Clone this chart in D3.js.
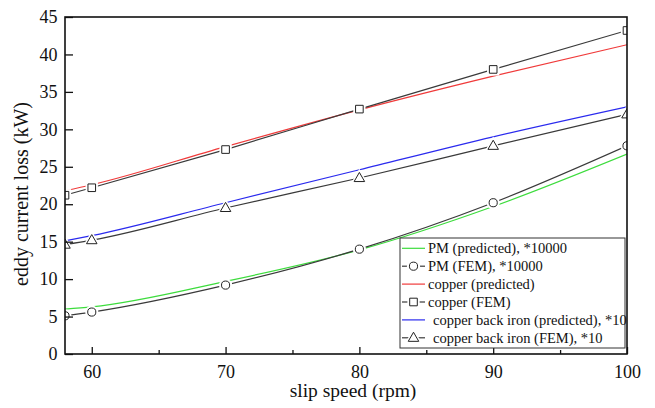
<!DOCTYPE html>
<html>
<head>
<meta charset="utf-8">
<script src="https://cdn.jsdelivr.net/npm/d3@7"></script>
<style>
  html, body { margin: 0; padding: 0; background: #fff; }
  svg { display: block; font-family: "Liberation Serif", "Times New Roman", serif; }
</style>
</head>
<body>
<svg id="chart" width="655" height="408"></svg>
<script>
// ---- data ----
const slipSpeed = [58, 60, 70, 80, 90, 100];
const pmPredicted = [6.0, 6.3, 9.7, 13.9, 19.7, 26.7];
const pmFEM = [5.1, 5.6, 9.2, 14.0, 20.2, 27.8];
const copperPredicted = [21.8, 22.6, 27.7, 32.6, 37.1, 41.3];
const copperFEM = [21.2, 22.2, 27.3, 32.7, 38.0, 43.2];
const backIronPredicted = [15.1, 15.8, 20.2, 24.6, 29.0, 33.0];
const backIronFEM = [14.6, 15.2, 19.5, 23.5, 27.8, 32.0];
const xTicks = [60, 70, 80, 90, 100];
const xMinorTicks = [65, 75, 85, 95];
const yTicks = [0, 5, 10, 15, 20, 25, 30, 35, 40, 45];
const legendLabels = [
  "PM (predicted), *10000",
  "PM (FEM), *10000",
  "copper (predicted)",
  "copper (FEM)",
  "copper back iron (predicted), *10",
  "copper back iron (FEM), *10"
];

const series = [
  { name: legendLabels[0], values: pmPredicted, color: "#3ddc3d", marker: null, indent: 0 },
  { name: legendLabels[1], values: pmFEM, color: "#3a3a3a", marker: "circle", indent: 0 },
  { name: legendLabels[2], values: copperPredicted, color: "#f03a3a", marker: null, indent: 0 },
  { name: legendLabels[3], values: copperFEM, color: "#3a3a3a", marker: "square", indent: 0 },
  { name: legendLabels[4], values: backIronPredicted, color: "#2a2aee", marker: null, indent: 5 },
  { name: legendLabels[5], values: backIronFEM, color: "#3a3a3a", marker: "triangle", indent: 5 }
];

// ---- layout ----
const svg = d3.select("#chart");
const L = 65, R = 627, T = 17, B = 354;
const x = d3.scaleLinear().domain([58, 100]).range([L, R]);
const y = d3.scaleLinear().domain([0, 45]).range([B, T]);

svg.append("defs").append("clipPath").attr("id", "plotclip")
  .append("rect").attr("x", L).attr("y", T).attr("width", R - L).attr("height", B - T);

const symbolFor = m => m === "circle" ? d3.symbolCircle : m === "square" ? d3.symbolSquare : d3.symbolTriangle;
const sizeFor = m => m === "circle" ? 52 : m === "square" ? 58 : 48;

const plot = svg.append("g").attr("clip-path", "url(#plotclip)");
const line = d3.line().x((d, i) => x(slipSpeed[i])).y(d => y(d)).curve(d3.curveMonotoneX);

series.forEach(s => {
  plot.append("path").datum(s.values)
    .attr("d", line).attr("fill", "none")
    .attr("stroke", s.color).attr("stroke-width", 1.2);
});

function drawMarker(g, m, cx, cy) {
  const dy = m === "triangle" ? 0.5 : 0;
  g.append("path").attr("d", d3.symbol().type(symbolFor(m)).size(sizeFor(m) * 2.6)())
    .attr("transform", `translate(${cx},${cy + dy})`)
    .attr("fill", "#fff").attr("stroke", "none");
  g.append("path").attr("d", d3.symbol().type(symbolFor(m)).size(sizeFor(m))())
    .attr("transform", `translate(${cx},${cy + dy})`)
    .attr("fill", "#fff").attr("stroke", "#222").attr("stroke-width", 1);
}

series.filter(s => s.marker).forEach(s => {
  s.values.forEach((v, i) => drawMarker(plot, s.marker, x(slipSpeed[i]), y(v)));
});

// ---- axes ----
const xAxis = d3.axisBottom(x).tickValues(xTicks).tickSize(-7).tickPadding(11).tickFormat(d3.format("d"));
const gx = svg.append("g").attr("transform", `translate(0,${B})`).call(xAxis);
const gxm = svg.append("g").attr("transform", `translate(0,${B})`)
  .call(d3.axisBottom(x).tickValues(xMinorTicks).tickSize(-4).tickFormat(""));
const yAxis = d3.axisLeft(y).tickValues(yTicks).tickSize(-8).tickPadding(7.5).tickFormat(d3.format("d"));
const gy = svg.append("g").attr("transform", `translate(${L},0)`).call(yAxis);

[gx, gxm, gy].forEach(g => {
  g.select(".domain").remove();
  g.selectAll(".tick line").attr("stroke", "#111").attr("stroke-width", 1.3);
  g.selectAll("text").attr("font-family", "Liberation Serif").attr("font-size", 18).attr("fill", "#111");
});

svg.append("rect").attr("x", L).attr("y", T).attr("width", R - L).attr("height", B - T)
  .attr("fill", "none").attr("stroke", "#111").attr("stroke-width", 1.6);

// axis titles
svg.append("text").attr("x", 353).attr("y", 397).attr("text-anchor", "middle")
  .attr("font-size", 19.5).attr("fill", "#111").text("slip speed (rpm)");
svg.append("text").attr("transform", "translate(27.5,194) rotate(-90)").attr("text-anchor", "middle")
  .attr("font-size", 20).attr("fill", "#111").text("eddy current loss (kW)");

// ---- legend ----
const lg = svg.append("g");
lg.append("rect").attr("x", 400).attr("y", 238).attr("width", 225).attr("height", 110)
  .attr("fill", "#fff").attr("stroke", "#333").attr("stroke-width", 1);
series.forEach((s, i) => {
  const ry = 248.3 + i * 17.9;
  lg.append("line").attr("x1", 402).attr("x2", 425).attr("y1", ry).attr("y2", ry)
    .attr("stroke", s.color).attr("stroke-width", 1.2);
  if (s.marker) drawMarker(lg, s.marker, 413.5, ry);
  lg.append("text").attr("x", 428 + s.indent).attr("y", ry + 4.8)
    .attr("font-size", 14.5).attr("fill", "#111").text(s.name);
});
</script>
</body>
</html>
